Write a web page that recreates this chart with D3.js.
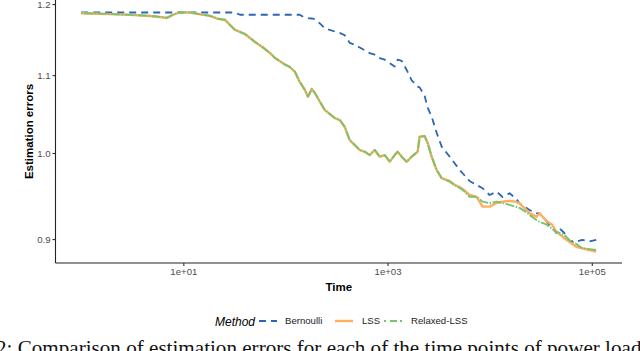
<!DOCTYPE html>
<html><head><meta charset="utf-8">
<script src="https://cdn.jsdelivr.net/npm/d3@7"></script>
<style>html,body{margin:0;padding:0;background:#fff;}svg{display:block;}</style>
</head><body>
<svg id="chart" width="640" height="351"></svg>
<script>
// ---- data ----
const time = [1, 1.5, 2.2, 3, 4.7, 5.9, 6.9, 7.9, 9.3, 11.6, 14.6, 18.2, 21.8, 25.6, 28.6, 32, 35.8, 40.1, 50.2, 58.8,
  70.4, 78.8, 98.6, 110, 124, 138, 155, 166, 181, 194, 217, 243, 304, 340, 381, 426, 477, 534, 598, 669,
  748, 838, 938, 1050, 1175, 1257, 1375, 1539, 1722, 1972, 2062, 2308, 2470, 2704, 3027, 3388, 4056, 4539, 5080, 5435,
  6363, 7450, 8530, 9980, 11690, 13380, 15660, 17920, 19610, 22950, 24550, 28740, 30750, 35170, 38480, 41150, 45000, 48150, 53840, 60240,
  70590, 80800, 94500, 110600];
const bernoulli = [1.1877, 1.1877, 1.1877, 1.1877, 1.1877, 1.1877, 1.1877, 1.1877, 1.1877, 1.1877, 1.1877, 1.1877, 1.1877, 1.1877, 1.1877, 1.1877, 1.1844, 1.1844, 1.1844, 1.1844,
  1.1844, 1.1844, 1.1844, 1.1844, 1.1844, 1.1844, 1.180, 1.1795, 1.179, 1.178, 1.172, 1.165, 1.1604, 1.1585, 1.155, 1.1444, 1.1416, 1.1378, 1.134, 1.1301,
  1.128, 1.1232, 1.121, 1.1163, 1.1117, 1.121, 1.1195, 1.107, 1.093, 1.0847, 1.0836, 1.0725, 1.057, 1.0456, 1.025, 1.0078, 0.9956, 0.9876, 0.9795, 0.9755,
  0.9663, 0.9616, 0.9577, 0.9499, 0.9538, 0.9476, 0.9519, 0.9464, 0.9403, 0.935, 0.9326, 0.9289, 0.9287, 0.9213, 0.9156, 0.9122, 0.9067, 0.9122, 0.9067, 0.898,
  0.8971, 0.899, 0.8973, 0.899];
const lss = [1.1866, 1.1858, 1.1850, 1.1842, 1.1827, 1.1812, 1.1798, 1.1842, 1.1881, 1.1875, 1.1851, 1.1827, 1.1784, 1.1769, 1.1697, 1.1626, 1.1598, 1.1568, 1.1456, 1.1390,
  1.1303, 1.1234, 1.1145, 1.1111, 1.1043, 1.0909, 1.0802, 1.0713, 1.0815, 1.0762, 1.0648, 1.0540, 1.0437, 1.0412, 1.0323, 1.0159, 1.0097, 1.0036, 1.0015, 0.9974,
  1.0036, 0.9954, 0.9974, 0.9893, 0.9974, 1.0015, 0.9954, 0.9893, 0.9954, 1.0015, 1.0201, 1.0209, 1.0122, 0.9954, 0.9793, 0.9696, 0.9663, 0.9616, 0.9592, 0.957,
  0.9499, 0.9476, 0.9364, 0.9364, 0.9406, 0.9422, 0.943, 0.9422, 0.9403, 0.9326, 0.929, 0.925, 0.9289, 0.9213, 0.9179, 0.9156, 0.9081, 0.9055, 0.901, 0.8971,
  0.8916, 0.8899, 0.888, 0.8863];
const relaxed = [1.1868, 1.1860, 1.1852, 1.1844, 1.1829, 1.1814, 1.1800, 1.1844, 1.1883, 1.1877, 1.1853, 1.1829, 1.1786, 1.1771, 1.1699, 1.1628, 1.1600, 1.1570, 1.1458, 1.1392,
  1.1305, 1.1236, 1.1147, 1.1113, 1.1045, 1.0911, 1.0804, 1.0715, 1.0817, 1.0764, 1.0650, 1.0542, 1.0439, 1.0414, 1.0325, 1.0161, 1.0099, 1.0038, 1.0017, 0.9976,
  1.0038, 0.9956, 0.9976, 0.9895, 0.9976, 1.0017, 0.9956, 0.9895, 0.9956, 1.0017, 1.0203, 1.0211, 1.0124, 0.9956, 0.9795, 0.9696, 0.9655, 0.9616, 0.958, 0.9558,
  0.9479, 0.9479, 0.9422, 0.9403, 0.9422, 0.9406, 0.9384, 0.9364, 0.935, 0.930, 0.9269, 0.9213, 0.9193, 0.9167, 0.9137, 0.911, 0.9081, 0.9067, 0.9045, 0.899,
  0.8946, 0.8899, 0.889, 0.888];
const methods = ["Bernoulli", "LSS", "Relaxed-LSS"];
const colors = ["#2c66b5", "#fdae61", "#78c46c"];
const xTicks = [10, 1000, 100000];
const xTickLabels = ["1e+01", "1e+03", "1e+05"];
const yTicks = [0.9, 1.0, 1.1, 1.2];
const yTickLabels = ["0.9", "1.0", "1.1", "1.2"];
const caption = "2: Comparison of estimation errors for each of the time points of power load";

// ---- layout ----
const svg = d3.select("#chart");
const L = 55.5, R = 622, T = 0, B = 263;
const x = d3.scaleLog().domain([0.56, 197700]).range([L, R]);
const y = d3.scaleLog().domain([0.874, 1.206]).range([B, T]);

const series = [bernoulli, lss, relaxed].map((vals, i) => ({
  name: methods[i], color: colors[i],
  points: time.map((t, j) => ({t, v: vals[j]}))
}));
const styles = [
  {w: 1.8, dash: "7,5"},
  {w: 2.4, dash: null},
  {w: 1.9, dash: "1.5,1.5,9,1.5"}
];
const line = d3.line().x(d => x(d.t)).y(d => y(d.v));

series.forEach((s, i) => {
  svg.append("path").datum(s.points)
    .attr("d", line).attr("fill", "none")
    .attr("stroke", s.color).attr("stroke-width", styles[i].w)
    .attr("stroke-linejoin", "round")
    .attr("stroke-dasharray", styles[i].dash);
});

// axes
const font = "'Liberation Sans', Arial, sans-serif";
const xAxis = svg.append("g").attr("transform", `translate(0,${B})`)
  .call(d3.axisBottom(x).tickValues(xTicks).tickFormat((d, i) => xTickLabels[i]).tickSize(3).tickPadding(2));
const yAxis = svg.append("g").attr("transform", `translate(${L},0)`)
  .call(d3.axisLeft(y).tickValues(yTicks).tickFormat((d, i) => yTickLabels[i]).tickSize(3).tickPadding(2));
[xAxis, yAxis].forEach(g => {
  g.select(".domain").attr("stroke", "#222").attr("stroke-width", 1.1);
  g.selectAll(".tick line").attr("stroke", "#333").attr("stroke-width", 1.1);
  g.selectAll(".tick text").attr("fill", "#4d4d4d").style("font-family", font).style("font-size", "9.6px");
});
yAxis.select(".domain").attr("d", `M0,${T}V${B}`);
xAxis.select(".domain").attr("d", `M${L},0H${R}`);

svg.append("text").attr("x", (L + R) / 2).attr("y", 291).attr("text-anchor", "middle")
  .style("font-family", font).style("font-size", "11.5px").style("font-weight", "bold").text("Time");
svg.append("text").attr("transform", `translate(33,${(T + B) / 2}) rotate(-90)`).attr("text-anchor", "middle")
  .style("font-family", font).style("font-size", "11.5px").style("font-weight", "bold").text("Estimation errors");

// legend
const ly = 321;
svg.append("text").attr("x", 215).attr("y", ly + 4.5).style("font-family", font).style("font-size", "12px")
  .style("font-style", "italic").text("Method");
const keyX = [259, 335, 384];
const labX = [285, 362, 411];
series.forEach((s, i) => {
  svg.append("line").attr("x1", keyX[i]).attr("x2", keyX[i] + 18).attr("y1", ly).attr("y2", ly)
    .attr("stroke", s.color).attr("stroke-width", styles[i].w)
    .attr("stroke-dasharray", i === 0 ? "7,5" : (i === 2 ? "2,4,7,3" : null));
  svg.append("text").attr("x", labX[i]).attr("y", ly + 3.3).style("font-family", font).style("font-size", "9.6px")
    .attr("fill", "#222").text(s.name);
});

// caption (cut at bottom, as in the reference)
const cap = svg.append("text").attr("x", -4).attr("y", 355)
  .style("font-family", "'Liberation Serif', 'Times New Roman', serif").style("font-size", "18px").attr("fill", "#111").text(caption);
const len = cap.node().getComputedTextLength();
cap.style("font-size", (18 * 646 / len) + "px");
</script>
</body></html>
